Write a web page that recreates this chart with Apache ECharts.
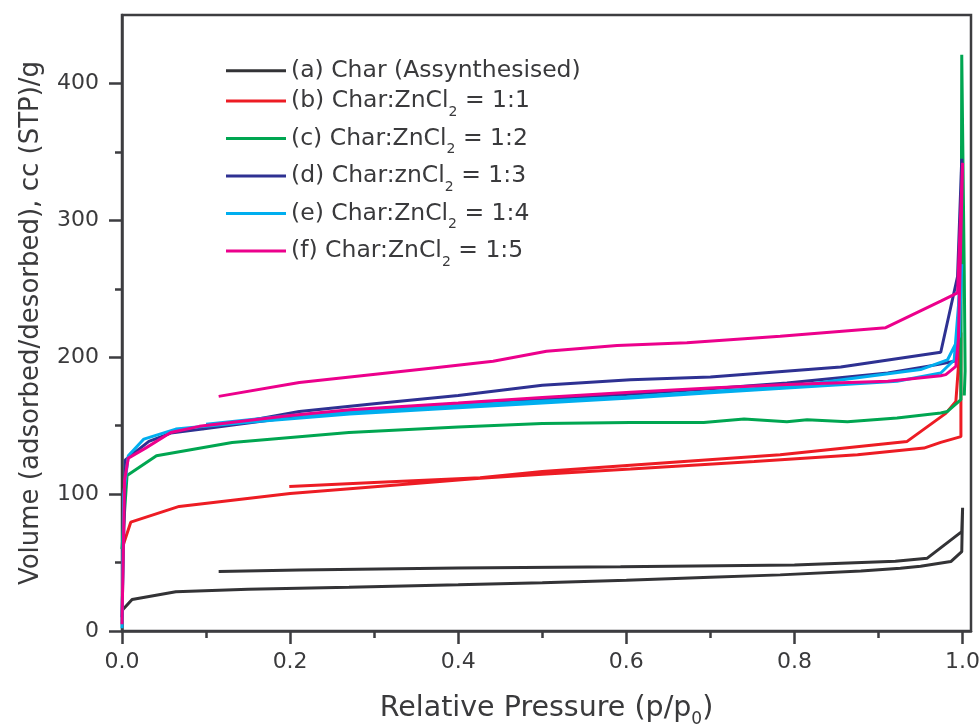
<!DOCTYPE html>
<html>
<head>
<meta charset="utf-8">
<script src="https://cdn.jsdelivr.net/npm/echarts@6/dist/echarts.min.js"></script>
<style>html,body{margin:0;padding:0;background:#fff;}#c{width:980px;height:725px;}</style>
</head>
<body>
<div id="c"></div>
<script>
// ---- data (p/p0, volume cc(STP)/g) ----
const seriesNames = [
  '(a) Char (Assynthesised)',
  '(b) Char:ZnCl2 = 1:1',
  '(c) Char:ZnCl2 = 1:2',
  '(d) Char:znCl2 = 1:3',
  '(e) Char:ZnCl2 = 1:4',
  '(f) Char:ZnCl2 = 1:5'
];
const xMajor = [0, 0.2, 0.4, 0.6, 0.8, 1.0];
const xMinor = [0.1, 0.3, 0.5, 0.7, 0.9];
const yMajor = [0, 100, 200, 300, 400];
const yMinor = [50, 150, 250, 350];

const aAds = [[0,15],[0.012,23],[0.064,28.7],[0.15,30.5],[0.27,32],[0.4,33.8],[0.5,35.3],[0.6,37],[0.7,39.3],[0.783,41],[0.879,43.9],[0.926,45.8],[0.95,47.3],[0.986,50.7],[0.999,58],[1.0,90]];
const aDes = [[1.0,90],[0.999,72.6],[0.958,53.2],[0.92,51],[0.8,48.3],[0.593,47],[0.4,46],[0.211,44.6],[0.115,43.4]];

const bAds = [[0,60],[0.0104,79.5],[0.068,91],[0.2,100.5],[0.271,104],[0.426,111.5],[0.5,114.5],[0.605,118.3],[0.752,123.8],[0.875,128.7],[0.954,133.6],[0.974,137.8],[0.998,142],[0.998,218]];
const bDes = [[0.998,218],[0.992,167.7],[0.98,159],[0.934,138.5],[0.783,128.7],[0.605,121],[0.5,116.5],[0.426,112],[0.3,108.5],[0.199,105.6]];

const cAds = [[0,60],[0.006,113.6],[0.041,128],[0.131,137.7],[0.27,145],[0.4,149],[0.5,151.5],[0.605,152.4],[0.692,152.4],[0.74,154.9],[0.791,152.9],[0.815,154.3],[0.863,152.9],[0.922,155.6],[0.974,159.2],[0.982,160.4],[0.998,169],[0.999,421]];
const cDes = [[0.999,421],[1.002,260],[1.003,190],[1.002,172]];

const dAds = [[0,10],[0.004,125],[0.032,138.5],[0.058,144.6],[0.1,148],[0.211,156.8],[0.3,162],[0.4,166],[0.5,169.5],[0.605,173],[0.7,177],[0.791,181.2],[0.911,188.5],[0.97,194.6],[0.99,197],[0.995,215],[0.999,345]];
const dDes = [[0.999,345],[0.994,259],[0.974,203.6],[0.855,192.9],[0.7,185.5],[0.605,183.6],[0.5,179.5],[0.4,172],[0.3,166],[0.211,160.4],[0.096,147.5]];

const eAds = [[0,2],[0.002,100],[0.0075,128],[0.026,140.2],[0.064,147.5],[0.15,152.5],[0.271,158.5],[0.4,163],[0.5,166.5],[0.605,170.2],[0.7,174],[0.791,177.5],[0.922,182.4],[0.974,188.5],[0.99,198],[0.999,268]];
const eDes = [[0.999,268],[0.996,215],[0.982,198],[0.95,191],[0.8,179],[0.6,171],[0.4,165],[0.2,157.5],[0.1,151]];

const fAds = [[0,5],[0.003,110],[0.0075,126.3],[0.028,133.6],[0.058,145],[0.092,149.5],[0.2,157.5],[0.271,161.7],[0.4,166.5],[0.5,170.5],[0.605,174.5],[0.7,177.5],[0.791,180],[0.911,182.4],[0.974,186.5],[0.98,187.3],[0.992,193.3],[0.995,213],[1.0,342]];
const fDes = [[1.0,342],[0.994,247],[0.974,241],[0.9085,221.6],[0.783,215.3],[0.672,210.5],[0.589,208.5],[0.505,204.3],[0.4415,197],[0.37,192.2],[0.211,181.6],[0.115,171.4]];

const branches = [[aAds,aDes],[bAds,bDes],[cAds,cDes],[dAds,dDes],[eAds,eDes],[fAds,fDes]];
const colors = ['#333336','#ed1c24','#00a651','#2e3192','#00aeef','#ec008c'];

const txt = '#3a3a3c';
const axc = '#3d3d40';
const FONT = 'DejaVu Sans';

const chart = echarts.init(document.getElementById('c'), null, {renderer:'canvas'});

const series = branches.map((b, i) => ({
  name: seriesNames[i],
  type: 'line',
  xAxisIndex: 0, yAxisIndex: 0,
  data: b[0].concat(b[1]),
  showSymbol: false, symbol: 'none',
  smooth: false,
  lineStyle: {color: colors[i], width: 3},
  itemStyle: {color: colors[i]},
  z: 2 + i
}));

const subRich = {s: {fontSize: 14, fontFamily: FONT, color: txt, padding: [22,0,0,0], lineHeight: 14}};
function legendFmt(n){ return n.replace('Cl2', 'Cl{s|2}'); }

const option = {
  animation: false,
  backgroundColor: '#fff',
  grid: {left: 122, right: 9, top: 15, bottom: 94, show: true, borderColor: axc, borderWidth: 2.5,
         containLabel: false, outerBoundsMode: 'none'},
  legend: [
    {data: [seriesNames[0]], orient: 'vertical', left: 226, top: 58.7, padding: 0, icon: 'rect', itemWidth: 60, itemHeight: 3, itemGap: 0,
     textStyle: {fontSize: 23.5, fontFamily: FONT, color: txt, lineHeight: 24}, selectedMode: false},
    {data: seriesNames.slice(1), orient: 'vertical', left: 226, top: 83, padding: 0, icon: 'rect', itemWidth: 60, itemHeight: 3, itemGap: 1.5,
     formatter: legendFmt,
     textStyle: {fontSize: 23.5, fontFamily: FONT, color: txt, lineHeight: 24, rich: subRich}, selectedMode: false}
  ],
  xAxis: [
    {type: 'value', min: 0, max: 1.01, position: 'bottom',
     axisLine: {show: true, onZero: false, lineStyle: {color: axc, width: 2.5}},
     axisTick: {show: true, inside: false, length: 13, customValues: xMajor, lineStyle: {color: axc, width: 2.5}},
     axisLabel: {show: true, customValues: xMajor, formatter: v => v.toFixed(1), fontSize: 22, fontFamily: FONT, color: txt, margin: 20},
     splitLine: {show: false},
     name: 'Relative Pressure (p/p{s|0})', nameLocation: 'middle', nameGap: 62,
     nameTextStyle: {fontSize: 28.5, fontFamily: FONT, color: txt, lineHeight: 32,
       rich: {s: {fontSize: 17, fontFamily: FONT, color: txt, padding: [22,0,0,0], lineHeight: 17}}}},
    {type: 'value', min: 0, max: 1.01, position: 'bottom',
     axisLine: {show: false}, axisLabel: {show: false}, splitLine: {show: false},
     axisTick: {show: true, inside: false, length: 7, customValues: xMinor, lineStyle: {color: axc, width: 2.5}}}
  ],
  yAxis: [
    {type: 'value', min: 0, max: 450, position: 'left',
     axisLine: {show: true, onZero: false, lineStyle: {color: axc, width: 2.5}},
     axisTick: {show: true, inside: false, length: 13, customValues: yMajor, lineStyle: {color: axc, width: 2.5}},
     axisLabel: {show: true, customValues: yMajor, fontSize: 22, fontFamily: FONT, color: txt, margin: 23},
     splitLine: {show: false},
     name: 'Volume (adsorbed/desorbed), cc (STP)/g', nameLocation: 'middle', nameGap: 78,
     nameTextStyle: {fontSize: 26, fontFamily: FONT, color: txt}},
    {type: 'value', min: 0, max: 450, position: 'left',
     axisLine: {show: false}, axisLabel: {show: false}, splitLine: {show: false},
     axisTick: {show: true, inside: false, length: 7, customValues: yMinor, lineStyle: {color: axc, width: 2.5}}}
  ],
  series: series
};
chart.setOption(option);
</script>
</body>
</html>
